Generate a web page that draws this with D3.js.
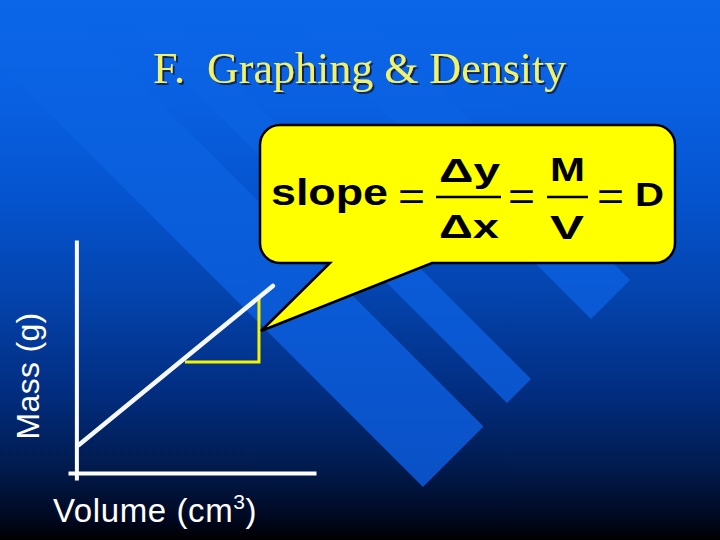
<!DOCTYPE html>
<html>
<head>
<meta charset="utf-8">
<script src="https://cdn.jsdelivr.net/npm/d3@7"></script>
<style>
  html, body { margin: 0; padding: 0; background: #000; }
  svg { display: block; }
  text { white-space: pre; }
</style>
</head>
<body>
<svg id="chart" width="720" height="540"></svg>
<script>
// ---------- data ----------
const titleText = "F.  Graphing & Density";
const xLabelMain = "Volume (cm";
const xLabelSup = "3";
const xLabelEnd = ")";
const yLabelText = "Mass (g)";

const xDomain = [-0.35, 10];
const yDomain = [-0.3, 10];

// straight line: mass vs volume
const lineVolume = [0.1, 8.2];
const lineMass = [1.2, 8.03];

// slope triangle (run leg, rise leg)
const triVolume = [4.53, 7.62, 7.62];
const triMass = [4.76, 4.76, 7.51];

// equation pieces
const eqLeft = "slope";
const fracNumerators = ["Δy", "M"];
const fracDenominators = ["Δx", "V"];
const eqRight = "D";

// ---------- drawing ----------
const svg = d3.select("#chart");
const W = 720, H = 540;
const defs = svg.append("defs");

const bg = defs.append("linearGradient").attr("id", "bg")
  .attr("x1", 0).attr("y1", 0).attr("x2", 0).attr("y2", 1);
[[0, "#0b66e8"], [0.18, "#0961e2"], [0.37, "#0553ce"], [0.55, "#0443ac"],
 [0.72, "#022e82"], [0.87, "#011a4c"], [0.96, "#000820"], [1, "#000000"]]
  .forEach(([o, c]) => bg.append("stop").attr("offset", o).attr("stop-color", c));

const sg = defs.append("linearGradient").attr("id", "stripe")
  .attr("gradientUnits", "userSpaceOnUse")
  .attr("x1", 0).attr("y1", 0).attr("x2", 0).attr("y2", 540);
[[0, "#0b66e8"], [0.25, "#0a61e0"], [0.55, "#0a5ad6"], [0.85, "#0a52c8"], [1, "#0a4dc0"]]
  .forEach(([o, c]) => sg.append("stop").attr("offset", o).attr("stop-color", c));

const shadow = defs.append("filter").attr("id", "tshadow")
  .attr("x", "-5%").attr("y", "-20%").attr("width", "110%").attr("height", "140%");
shadow.append("feDropShadow").attr("dx", 2).attr("dy", 2).attr("stdDeviation", 0.6)
  .attr("flood-color", "#0a1a50").attr("flood-opacity", 0.9);

svg.append("rect").attr("width", W).attr("height", H).attr("fill", "url(#bg)");

// diagonal stripes (decoration): bands between y-x=c1 and y-x=c2, ending at x+y=end
const stripeBands = [[-57, 64], [-152, -104], [-350, -272]];
const stripeEnd = 910, stripeStart = -400;
const pt = (s, c) => [(s - c) / 2, (s + c) / 2];
stripeBands.forEach(([c1, c2]) => {
  const poly = [pt(stripeStart, c1), pt(stripeEnd, c1), pt(stripeEnd, c2), pt(stripeStart, c2)];
  svg.append("polygon").attr("points", poly.map(p => p.join(",")).join(" "))
    .attr("fill", "url(#stripe)");
});

// title with shadow
svg.append("text").attr("x", 153).attr("y", 83).text(titleText)
  .attr("font-family", "Liberation Serif, Times New Roman, serif").attr("font-size", 44)
  .attr("fill", "#f2f268").attr("filter", "url(#tshadow)");

// scales
const x = d3.scaleLinear().domain(xDomain).range([68, 316]);
const y = d3.scaleLinear().domain(yDomain).range([480, 240]);

// axes
const xAxis = svg.append("g").attr("transform", `translate(0,${y(0)})`)
  .call(d3.axisBottom(x).tickValues([]).tickSizeOuter(0));
const yAxis = svg.append("g").attr("transform", `translate(${x(0)},0)`)
  .call(d3.axisLeft(y).tickValues([]).tickSizeOuter(0));
[xAxis, yAxis].forEach(a => a.select(".domain")
  .attr("stroke", "#ffffff").attr("stroke-width", 4).attr("fill", "none"));

// slope triangle
const triPts = triVolume.map((v, i) => [x(v), y(triMass[i])]);
svg.append("path").attr("d", d3.line()(triPts))
  .attr("fill", "none").attr("stroke", "#f4f400").attr("stroke-width", 3);

// data line
const linePts = lineVolume.map((v, i) => [x(v), y(lineMass[i])]);
svg.append("path").attr("d", d3.line()(linePts))
  .attr("fill", "none").attr("stroke", "#f6f8ff").attr("stroke-width", 4.5)
  .attr("stroke-linecap", "round");

// axis labels
svg.append("text").attr("transform", "translate(39,376) rotate(-90)")
  .attr("text-anchor", "middle").text(yLabelText)
  .attr("font-family", "Liberation Sans, Arial, sans-serif").attr("font-size", 32)
  .attr("letter-spacing", 0.3).attr("fill", "#ffffff");
const xl = svg.append("text").attr("x", 53).attr("y", 522)
  .attr("font-family", "Liberation Sans, Arial, sans-serif").attr("font-size", 33)
  .attr("letter-spacing", 0.6).attr("fill", "#ffffff");
xl.append("tspan").text(xLabelMain);
xl.append("tspan").attr("font-size", 21).attr("dy", -13).text(xLabelSup);
xl.append("tspan").attr("dy", 13).text(xLabelEnd);

// callout bubble
const cb = { x0: 260, y0: 125, x1: 675, y1: 263, r: 20, tailL: 330, tailR: 432, tipX: 261, tipY: 331 };
const p = d3.path();
p.moveTo(cb.x0 + cb.r, cb.y0);
p.lineTo(cb.x1 - cb.r, cb.y0);
p.arcTo(cb.x1, cb.y0, cb.x1, cb.y0 + cb.r, cb.r);
p.lineTo(cb.x1, cb.y1 - cb.r);
p.arcTo(cb.x1, cb.y1, cb.x1 - cb.r, cb.y1, cb.r);
p.lineTo(cb.tailR, cb.y1);
p.lineTo(cb.tipX, cb.tipY);
p.lineTo(cb.tailL, cb.y1);
p.lineTo(cb.x0 + cb.r, cb.y1);
p.arcTo(cb.x0, cb.y1, cb.x0, cb.y1 - cb.r, cb.r);
p.lineTo(cb.x0, cb.y0 + cb.r);
p.arcTo(cb.x0, cb.y0, cb.x0 + cb.r, cb.y0, cb.r);
p.closePath();
svg.append("path").attr("d", p.toString())
  .attr("fill", "#ffff00").attr("stroke", "#000000").attr("stroke-width", 2.5)
  .attr("stroke-linejoin", "miter");

// equation
const eq = svg.append("g").attr("font-family", "Liberation Sans, Arial, sans-serif")
  .attr("fill", "#000000");
function bold(txt, x0, base, size, len) {
  eq.append("text").attr("x", x0).attr("y", base).attr("font-size", size)
    .attr("font-weight", "bold").attr("textLength", len)
    .attr("lengthAdjust", "spacingAndGlyphs").text(txt);
}
function eqSign(x0) {
  eq.append("text").attr("x", x0).attr("y", 210).attr("font-size", 38)
    .attr("textLength", 27).attr("lengthAdjust", "spacingAndGlyphs").text("=");
}
bold(eqLeft, 271, 205, 37, 117);
eqSign(398);
bold(fracNumerators[0], 439, 182, 33, 61);
eq.append("line").attr("x1", 436).attr("x2", 501).attr("y1", 197).attr("y2", 197)
  .attr("stroke", "#000").attr("stroke-width", 2.5);
bold(fracDenominators[0], 439, 238, 33, 60);
eqSign(508);
bold(fracNumerators[1], 550, 181, 33, 35);
eq.append("line").attr("x1", 547).attr("x2", 588).attr("y1", 197).attr("y2", 197)
  .attr("stroke", "#000").attr("stroke-width", 2.5);
bold(fracDenominators[1], 550, 239, 33, 34);
eqSign(597);
bold(eqRight, 635, 206, 33, 29);
</script>
</body>
</html>
